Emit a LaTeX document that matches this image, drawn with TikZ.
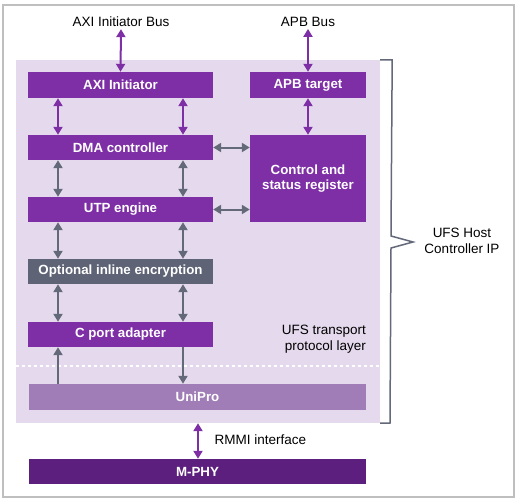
\documentclass[tikz,border=0pt]{standalone}
\usepackage{fontspec}
\setmainfont{Liberation Sans}
\usetikzlibrary{arrows.meta}
\definecolor{ufspurple}{HTML}{7E2FA6}
\definecolor{ufslav}{HTML}{E5DAED}
\definecolor{ufsgray}{HTML}{5E6476}
\definecolor{ufsarrow}{HTML}{646979}
\definecolor{ufsuni}{HTML}{A17DB7}
\definecolor{ufsphy}{HTML}{5C1F7E}
\tikzset{>={Triangle[length=8pt,width=9pt]}}

\begin{document}
\begin{tikzpicture}[x=1pt,y=-1pt,font=\fontsize{13.5}{15.5}\selectfont,
  block/.style={fill=ufspurple, text=white, font=\fontsize{13.3}{15.5}\selectfont\bfseries, inner sep=0pt, minimum height=25pt},
  garrow/.style={line width=2pt, ufsarrow},
  parrow/.style={line width=2pt, ufspurple}]

\useasboundingbox (0,0) rectangle (519,500);
\draw[line width=1.5pt, black!25] (3,5) rectangle (514,497);

\node[fill=ufslav, minimum width=364pt, minimum height=363pt, inner sep=0pt] (host) at (198,241.5) {};
\draw[white, line width=1.2pt, dashed] (host.west |- 0,366) -- (host.east |- 0,366);

\coordinate (l) at (58,0);
\coordinate (r) at (183,0);

\node[block, minimum width=185pt, minimum height=26pt] (axi) at (120.5,85) {AXI Initiator};
\node[block, minimum width=116pt, minimum height=26pt] (apb) at (308,85) {APB target};
\node[block, minimum width=185pt] (dma) at (120.5,147.5) {DMA controller};
\node[block, minimum width=116pt, minimum height=87pt, align=center] (csr) at (308,178.5) {Control and\\status register};
\node[block, minimum width=185pt] (utp) at (120.5,209.5) {UTP engine};
\node[block, fill=ufsgray, minimum width=185pt] (enc) at (120.5,271.5) {Optional inline encryption};
\node[block, minimum width=185pt] (cport) at (120.5,334.5) {C port adapter};
\node[block, fill=ufsuni, minimum width=337pt, minimum height=26pt] (unipro) at (197.5,397) {UniPro};
\node[block, fill=ufsphy, minimum width=337pt] (mphy) at (197.5,471.5) {M-PHY};

\node[inner sep=2pt] (axibus) at (121,22) {AXI Initiator Bus};
\node[inner sep=2pt] (apbbus) at (308,22) {APB Bus};
\node[anchor=west] (rmmi) at (211,440) {RMMI interface};
\node[align=right, anchor=east, inner sep=0pt] (tpl) at (366,339) {UFS transport\\protocol layer};
\node[align=center] (ip) at (462,241) {UFS Host\\Controller IP};

\draw[parrow, <->] (axibus.south) -- (axi.north);
\draw[parrow, <->] (apbbus.south) -- (apb.north);
\draw[parrow, <->] (apb.south) -- (csr.north);
\draw[parrow, <->] (axi.south -| l) -- (dma.north -| l);
\draw[parrow, <->] (axi.south -| r) -- (dma.north -| r);
\draw[parrow, <->] (host.south) -- (host.south |- mphy.north);

\draw[garrow, <->] (dma.east) -- (dma.east -| csr.west);
\draw[garrow, <->] (utp.east) -- (utp.east -| csr.west);
\draw[garrow, <->] (dma.south -| l) -- (utp.north -| l);
\draw[garrow, <->] (dma.south -| r) -- (utp.north -| r);
\draw[garrow, <->] (utp.south -| l) -- (enc.north -| l);
\draw[garrow, <->] (utp.south -| r) -- (enc.north -| r);
\draw[garrow, <->] (enc.south -| l) -- (cport.north -| l);
\draw[garrow, <->] (enc.south -| r) -- (cport.north -| r);
\draw[garrow, ->] (unipro.north -| l) -- (cport.south -| l);
\draw[garrow, ->] (cport.south -| r) -- (unipro.north -| r);

% bracket round the host controller
\draw[ufsarrow, line width=1.5pt] (host.north east) -- ++(12,0) -- (391,236) -- (413,242) -- (391,248) -- (390,423) -- (host.south east);

\end{tikzpicture}
\end{document}
